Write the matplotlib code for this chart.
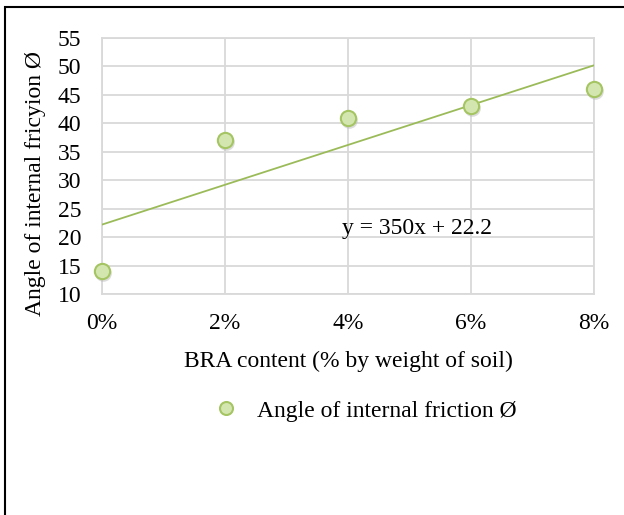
import matplotlib
matplotlib.use("Agg")
import matplotlib.pyplot as plt
from matplotlib.ticker import FuncFormatter
from matplotlib.patches import Rectangle
import matplotlib.transforms as mtransforms
import numpy as np

# Data
bra_content = [0.00, 0.02, 0.04, 0.06, 0.08]
friction_angle = [14, 37, 41, 43, 46]
trend_slope = 350
trend_intercept = 22.2
y_ticks = [10, 15, 20, 25, 30, 35, 40, 45, 50, 55]
x_ticks = [0.00, 0.02, 0.04, 0.06, 0.08]

plt.rcParams['font.family'] = ['Liberation Serif', 'DejaVu Serif']

W, H = 624, 515
fig = plt.figure(figsize=(W / 100, H / 100), dpi=100)

left, right, top, bottom = 102, 594, 38, 294
ax = fig.add_axes([left / W, 1 - bottom / H, (right - left) / W, (bottom - top) / H])

grid_c = '#D9D9D9'
green = '#9BBB59'
fill = '#D3E6B0'
FS = 17

ax.set_xlim(0, 0.08)
ax.set_ylim(10, 55)
ax.set_xticks(x_ticks)
ax.set_yticks(y_ticks)
ax.xaxis.set_major_formatter(FuncFormatter(lambda v, p: f"{v*100:.0f}%"))
ax.grid(True, color=grid_c, linewidth=1.3)
ax.set_axisbelow(True)
for s in ax.spines.values():
    s.set_color(grid_c)
    s.set_linewidth(1.3)
ax.tick_params(length=0, labelsize=FS)
ax.tick_params(axis='y', pad=15)
ax.tick_params(axis='x', pad=14)

# trendline
xs = np.array([x_ticks[0], x_ticks[-1]])
ax.plot(xs, trend_slope * xs + trend_intercept, color=green, linewidth=1.3, zorder=3)

# shadow
shadow_tr = ax.transData + mtransforms.ScaledTranslation(1/100, -2/100, fig.dpi_scale_trans)
ax.plot(bra_content, friction_angle, linestyle='none', marker='o', markersize=12,
        markerfacecolor='#BBBBBB', markeredgecolor='none', alpha=0.5, zorder=3,
        clip_on=False, transform=shadow_tr)
ax.plot(bra_content, friction_angle, linestyle='none', marker='o', markersize=11,
        markerfacecolor=fill, markeredgecolor='#A5C563', markeredgewidth=1.5, zorder=4,
        clip_on=False, label='Angle of internal friction Ø')

ax.text(0.039, 21.6, f"y = {trend_slope}x + {trend_intercept}", fontsize=FS,
        va='center', ha='left', zorder=5)

ax.set_ylabel('Angle of internal fricyion Ø', fontsize=FS)
ax.yaxis.set_label_coords((46 - left) / (right - left), (bottom - 184) / (bottom - top))
ax.set_xlabel('BRA content (% by weight of soil)', fontsize=FS)
ax.xaxis.set_label_coords((348 - left) / (right - left), (bottom - 351) / (bottom - top))

# legend
fig.legend(handles=[ax.lines[-1]], loc='center', bbox_to_anchor=(364 / W, 1 - 411 / H),
           frameon=False, fontsize=FS, handletextpad=0.7, handlelength=1.2,
           markerscale=0.85)

# border (only top and left visible)
fig.patches.append(Rectangle((4.5 / W, -0.1), 1.2, 1 - 7 / H + 0.1, transform=fig.transFigure,
                             fill=False, edgecolor='black', linewidth=1.5))

fig.savefig('out.png', dpi=100)
